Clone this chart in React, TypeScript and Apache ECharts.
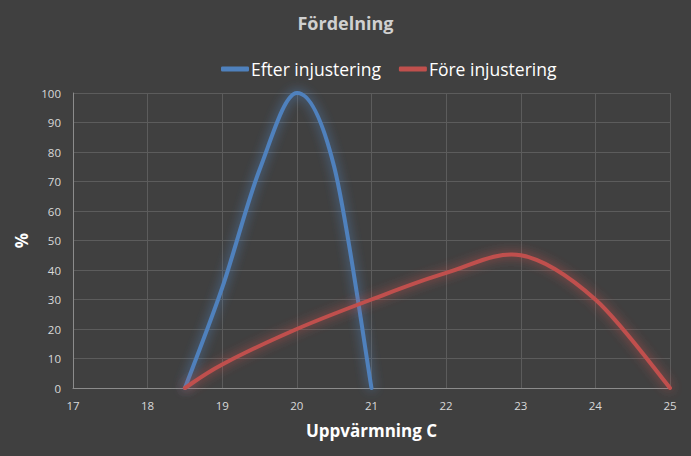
import React, { useEffect, useRef } from "react";
import * as echarts from "echarts";

// Temperature (°C) and share (%) per heating setpoint
const afterX = [18.5, 19, 19.5, 20, 20.5, 21];
const afterY = [0, 34, 74, 100, 75, 0];
const beforeX = [18.5, 19, 20, 21, 22, 23, 24, 25];
const beforeY = [0, 8, 20, 30, 39, 45, 30, 0];

const seriesNames = ["Efter injustering", "Före injustering"];
const seriesColors = ["#4F81BD", "#C0504D"];
const glowColors = ["rgba(79,129,189,0.9)", "rgba(192,80,77,0.9)"];

const pairs = (xs: number[], ys: number[]) => xs.map((x, i) => [x, ys[i]]);

// Cardinal (Catmull-Rom) spline through the projected points, as an SVG path
function splinePath(pts: number[][]): string {
  const n = pts.length;
  let d = `M${pts[0][0]},${pts[0][1]}`;
  for (let i = 0; i < n - 1; i++) {
    const p0 = pts[Math.max(i - 1, 0)];
    const p1 = pts[i];
    const p2 = pts[i + 1];
    const p3 = pts[Math.min(i + 2, n - 1)];
    const c1x = p1[0] + (p2[0] - p0[0]) / 6;
    const c1y = p1[1] + (p2[1] - p0[1]) / 6;
    const c2x = p2[0] - (p3[0] - p1[0]) / 6;
    const c2y = p2[1] - (p3[1] - p1[1]) / 6;
    d += ` C${c1x},${c1y} ${c2x},${c2y} ${p2[0]},${p2[1]}`;
  }
  return d;
}

function curveSeries(idx: number, xs: number[], ys: number[]) {
  return {
    name: seriesNames[idx],
    type: "custom",
    color: seriesColors[idx],
    data: pairs(xs, ys),
    z: 3 + idx,
    renderItem: (params: any, api: any) => {
      if (params.dataIndex !== 0) return null;
      const pts = xs.map((x, i) => api.coord([x, ys[i]]));
      return {
        type: "path",
        shape: { pathData: splinePath(pts) },
        style: {
          fill: "none",
          stroke: seriesColors[idx],
          lineWidth: 4,
          lineCap: "round",
          lineJoin: "round",
          shadowBlur: 11,
          shadowColor: glowColors[idx],
        },
      };
    },
  };
}

export default function App() {
  const ref = useRef<HTMLDivElement>(null);

  useEffect(() => {
    if (!ref.current) return;
    const chart = echarts.init(ref.current, undefined, { renderer: "svg" });
    const labelColor = "#d9d9d9";
    const font = "'Open Sans', 'Noto Sans', sans-serif";
    chart.setOption({
      animation: false,
      backgroundColor: "#404040",
      textStyle: { fontFamily: font },
      title: {
        text: "Fördelning",
        left: "center",
        top: 9,
        textStyle: { color: "#d0d0d0", fontSize: 18, fontWeight: "bold", fontFamily: font },
      },
      legend: {
        top: 55,
        left: 216,
        itemWidth: 28,
        itemHeight: 5,
        itemGap: 18,
        textStyle: { color: "#ffffff", fontSize: 17.5, fontFamily: font, padding: [0, 0, 0, -3] },
        data: seriesNames.map((name, i) => ({
          name,
          icon: "roundRect",
          itemStyle: { color: seriesColors[i] },
        })),
      },
      grid: { left: 73, right: 21, top: 93, bottom: 68, containLabel: false },
      xAxis: {
        type: "value",
        min: 17,
        max: 25,
        interval: 1,
        name: "Uppvärmning C",
        nameLocation: "middle",
        nameGap: 34,
        nameTextStyle: { color: "#ffffff", fontSize: 17, fontWeight: "bold", fontFamily: font },
        axisLine: { show: true, lineStyle: { color: "#8c8c8c", width: 1 } },
        axisTick: { show: false },
        axisLabel: { color: labelColor, fontSize: 11.5, margin: 11 },
        splitLine: { show: true, lineStyle: { color: "#5c5c5c", width: 1 } },
      },
      yAxis: {
        type: "value",
        min: 0,
        max: 100,
        interval: 10,
        name: "%",
        nameLocation: "middle",
        nameGap: 38,
        nameRotate: 90,
        nameTextStyle: { color: "#ffffff", fontSize: 17, fontWeight: "bold", fontFamily: font },
        axisLine: { show: true, lineStyle: { color: "#8c8c8c", width: 1 } },
        axisTick: { show: false },
        axisLabel: { color: labelColor, fontSize: 11.5, margin: 12 },
        splitLine: { show: true, lineStyle: { color: "#5c5c5c", width: 1 } },
      },
      series: [curveSeries(0, afterX, afterY), curveSeries(1, beforeX, beforeY)],
    });
    return () => chart.dispose();
  }, []);

  return <div ref={ref} style={{ width: 691, height: 456, position: "absolute", left: 0, top: 0 }} />;
}
